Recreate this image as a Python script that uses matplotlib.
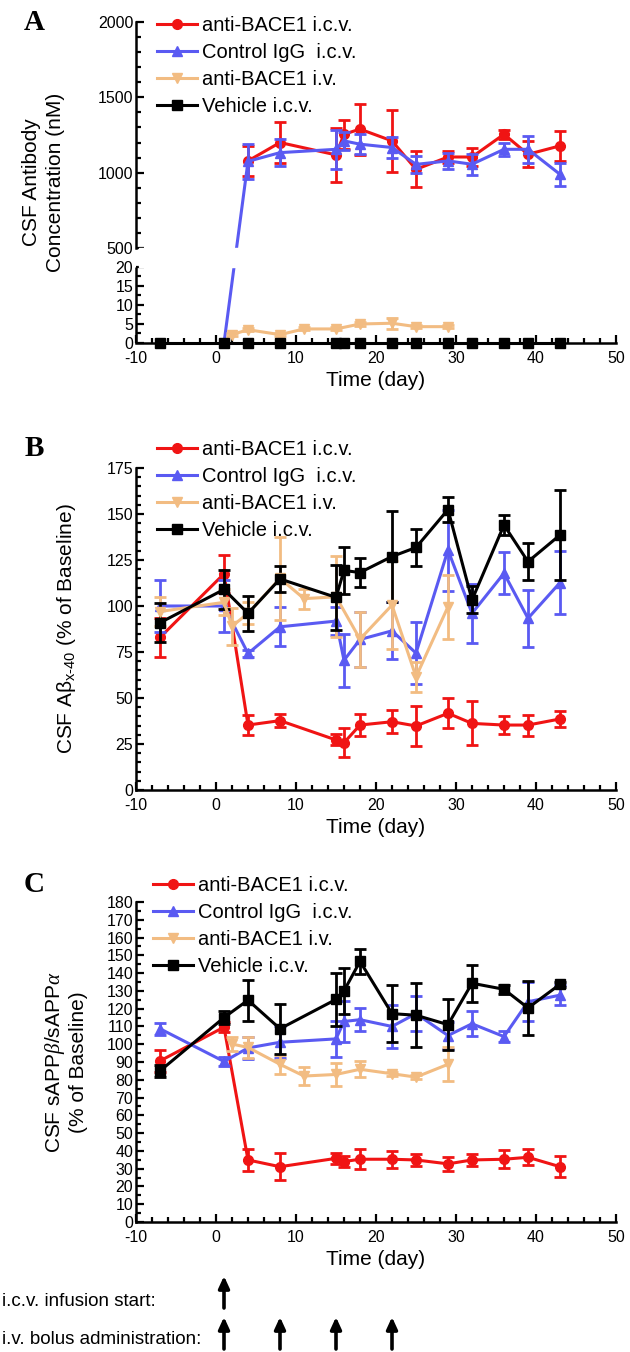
import numpy as np
import matplotlib
matplotlib.use("Agg")
import matplotlib.pyplot as plt
import matplotlib.transforms as mtransforms
from matplotlib.ticker import MultipleLocator, FixedLocator

plt.rcParams["font.family"] = ["Liberation Sans", "DejaVu Sans"]
plt.rcParams["axes.unicode_minus"] = False
plt.rcParams["mathtext.fontset"] = "custom"
plt.rcParams["mathtext.rm"] = "Liberation Sans"
plt.rcParams["mathtext.it"] = "Liberation Serif:italic"

labels = ["anti-BACE1 i.c.v.", "Control IgG  i.c.v.", "anti-BACE1 i.v.", "Vehicle i.c.v."]

# ---- panel A: CSF antibody concentration (nM)
a_red_days = [4, 8, 15, 16, 18, 22, 25, 29, 32, 36, 39, 43]
a_red = [1078, 1200, 1118, 1255, 1289, 1211, 1022, 1104, 1104, 1255, 1122, 1178]
a_red_err = [100, 135, 180, 95, 170, 205, 120, 40, 60, 30, 85, 100]
a_blue_days = [1, 4, 8, 15, 16, 18, 22, 25, 29, 32, 36, 39, 43]
a_blue = [0, 1075, 1133, 1155, 1211, 1189, 1167, 1055, 1078, 1056, 1155, 1155, 989]
a_blue_err = [0, 115, 90, 130, 60, 65, 70, 55, 55, 70, 45, 90, 75]
a_tan_days = [2, 4, 8, 11, 15, 18, 22, 25, 29]
a_tan = [2.2, 3.5, 2.2, 3.7, 3.7, 5.0, 5.2, 4.3, 4.3]
a_tan_err = [0.4, 0.4, 0.4, 0.4, 0.4, 0.4, 1.5, 0.4, 0.4]
a_blk_days = [-7, 1, 4, 8, 15, 16, 18, 22, 25, 29, 32, 36, 39, 43]
a_blk = [0, 0, 0, 0, 0, 0, 0, 0, 0, 0, 0, 0, 0, 0]

# ---- panel B: CSF Abeta x-40 (% of baseline)
b_days = [-7, 1, 4, 8, 15, 16, 18, 22, 25, 29, 32, 36, 39, 43]
b_red = [82.9, 117.5, 35.3, 37.7, 27.2, 25.7, 35.3, 37.1, 34.8, 41.7, 36.2, 35.3, 35.3, 38.6]
b_red_err = [10.4, 10.4, 5.2, 3.6, 3, 8, 6.2, 6.2, 11, 8.2, 12, 4.9, 5.7, 4.5]
b_blue = [100, 100, 74.2, 88.7, 91.8, 70.5, 81.8, 86.5, 74.4, 130.4, 96, 117.8, 93.3, 112.7]
b_blue_err = [14, 14, 2, 10.5, 7.5, 14.5, 15, 15.5, 17, 22, 16, 11.3, 15.6, 17.2]
b_tan_days = [-7, 1, 2, 4, 8, 11, 15, 18, 22, 25, 29]
b_tan = [97, 102, 89, 96, 115, 104, 105, 82, 100.5, 61.5, 99.6]
b_tan_err = [8, 7, 10, 6, 22.5, 5.5, 22, 15, 24, 8, 17.5]
b_blk = [90.9, 109, 96, 114.7, 104.7, 119.3, 118.2, 126.9, 131.8, 152.4, 103.3, 144, 124.1, 138.6]
b_blk_err = [10.5, 10.7, 9.5, 7, 17.7, 12.7, 7.7, 24.6, 10, 7, 7.3, 5.4, 10, 24.5]

# ---- panel C: CSF sAPPb/sAPPa (% of baseline)
c_days = [-7, 1, 4, 8, 15, 16, 18, 22, 25, 29, 32, 36, 39, 43]
c_red = [90.6, 109.6, 34.9, 31.1, 35.8, 34, 35.3, 35.3, 34.9, 32.7, 34.9, 35.3, 36.4, 31.1]
c_red_err = [6, 3, 6.3, 7.5, 3, 3, 5.5, 4.7, 3.4, 3.9, 3.4, 5.2, 4.5, 6]
c_blue = [108.7, 90.3, 97.9, 101.1, 103, 112.8, 113.8, 110, 117.2, 104.9, 111.5, 104.3, 123.9, 127.6]
c_blue_err = [3.5, 2.5, 6.2, 9, 10, 11.4, 6.4, 12, 10, 7.6, 7, 3, 11, 5.7]
c_tan_days = [2, 4, 8, 11, 15, 18, 22, 25, 29]
c_tan = [100.1, 98.2, 88.7, 82.1, 83, 85.9, 83.4, 81.5, 88.7]
c_tan_err = [4, 6, 5.5, 5, 6.5, 4.6, 1, 1, 9.5]
c_blk = [85, 115, 124.8, 108.7, 125.2, 130, 146.6, 117.2, 116.3, 111, 134.3, 130.9, 120.4, 133.7]
c_blk_err = [3.5, 3.5, 11.5, 14, 15, 12.8, 7, 16, 18, 14.4, 10.4, 2.5, 15, 1.5]

icv_start_days = [1]
bolus_days = [1, 8, 15, 22]

RED, BLUE, TAN, BLK = "#f01414", "#5a5af2", "#f2bc82", "#000000"
styles = [(RED, "o"), (BLUE, "^"), (TAN, "v"), (BLK, "s")]

TICK_FS = 11.5
LAB_FS = 15
LEG_FS = 14.5

fig = plt.figure(figsize=(6.3, 13.52), dpi=100)
W, H = 630.0, 1352.0


def make_ax(top_px, bot_px):
    return fig.add_axes([136 / W, 1 - bot_px / H, 480 / W, (bot_px - top_px) / H])


def style_ax(ax):
    for s in ["top", "right"]:
        ax.spines[s].set_visible(False)
    for s in ["left", "bottom"]:
        ax.spines[s].set_linewidth(1.8)
    ax.set_xlim(-10, 50)
    ax.xaxis.set_major_locator(MultipleLocator(10))
    ax.xaxis.set_minor_locator(MultipleLocator(2))
    ax.tick_params(which="both", direction="in", width=1.6, labelsize=TICK_FS)
    ax.tick_params(axis="x", pad=5.5)
    ax.tick_params(axis="y", pad=2)
    ax.tick_params(which="major", length=6)
    ax.tick_params(which="minor", length=3.5)
    ax.set_xlabel("Time (day)", fontsize=LAB_FS, labelpad=4)


def series(ax, x, y, err, k, clip=True):
    color, mk = styles[k]
    cont = ax.errorbar(x, y, yerr=err, color=color, marker=mk, markersize=7,
                       lw=2.2, elinewidth=2, capsize=4, capthick=2,
                       clip_on=clip, zorder=2 + k * 0.1)
    for a in cont.lines[1] + cont.lines[2]:
        a.set_clip_on(clip)
    return cont.lines[0]


def legend(ax, handles, x_px, top_px):
    ax.legend(handles, labels, loc="upper left", bbox_to_anchor=(x_px / W, 1 - top_px / H),
              bbox_transform=fig.transFigure, frameon=False, fontsize=LEG_FS, borderpad=0,
              borderaxespad=0, labelspacing=0.4, handlelength=2.0, handletextpad=0.25,
              numpoints=1)


# ---------------- Panel A (broken y axis through a piecewise scale)
def fwd(v):
    v = np.asarray(v, dtype=float)
    return np.where(v <= 20, v * 3.8,
                    np.where(v < 500, 76 + (v - 20) * 19 / 480, 95 + (v - 500) * 226 / 1500))


def inv(u):
    u = np.asarray(u, dtype=float)
    return np.where(u <= 76, u / 3.8,
                    np.where(u < 95, 20 + (u - 76) * 480 / 19, 500 + (u - 95) * 1500 / 226))


axA = make_ax(22, 343)
axA.set_yscale("function", functions=(fwd, inv))
axA.set_ylim(0, 2000)
style_ax(axA)
axA.yaxis.set_major_locator(FixedLocator([0, 5, 10, 15, 20, 500, 1000, 1500, 2000]))
axA.yaxis.set_minor_locator(FixedLocator([2.5, 7.5, 12.5, 17.5] +
                                         [v for v in range(600, 2000, 100) if v % 500]))
axA.yaxis.set_major_formatter(plt.FuncFormatter(lambda v, p: "%d" % v))
# split left spine: upper part is the spine itself, lower part drawn along the axis
axA.spines["left"].set_bounds(500, 2000)
axA.plot([0, 0], [0, 20], transform=axA.get_yaxis_transform(), color="black", lw=1.8,
         clip_on=False, solid_capstyle="butt", zorder=2.5)
axA.axhspan(20, 500, xmin=0.006, color="white", zorder=3.5)

hA = [series(axA, a_red_days, a_red, a_red_err, 0),
      series(axA, a_blue_days, a_blue, a_blue_err, 1),
      series(axA, a_tan_days, a_tan, a_tan_err, 2),
      series(axA, a_blk_days, a_blk, None, 3, clip=False)]
axA.set_ylabel("CSF Antibody\nConcentration (nM)", fontsize=LAB_FS, linespacing=1.3)
axA.yaxis.set_label_coords(-0.148, 0.5)
legend(axA, hA, 157, 16)

# ---------------- Panel B
axB = make_ax(468, 790)
style_ax(axB)
axB.set_ylim(0, 175)
axB.yaxis.set_major_locator(MultipleLocator(25))
axB.yaxis.set_minor_locator(MultipleLocator(5))
hB = [series(axB, b_days, b_red, b_red_err, 0),
      series(axB, b_days, b_blue, b_blue_err, 1),
      series(axB, b_tan_days, b_tan, b_tan_err, 2),
      series(axB, b_days, b_blk, b_blk_err, 3)]
axB.set_ylabel(r"CSF A$\mathregular{\beta_{x\text{-}40}}$ (% of Baseline)", fontsize=LAB_FS)
axB.yaxis.set_label_coords(-0.12, 0.5)
legend(axB, hB, 157, 440)

# ---------------- Panel C
axC = make_ax(902, 1222)
style_ax(axC)
axC.set_ylim(0, 180)
axC.yaxis.set_major_locator(MultipleLocator(10))
axC.yaxis.set_minor_locator(MultipleLocator(5))
hC = [series(axC, c_days, c_red, c_red_err, 0),
      series(axC, c_days, c_blue, c_blue_err, 1),
      series(axC, c_tan_days, c_tan, c_tan_err, 2),
      series(axC, c_days, c_blk, c_blk_err, 3)]
axC.set_ylabel(r"CSF sAPP$\beta$/sAPP$\mathit{\alpha}$" + "\n(% of Baseline)", fontsize=LAB_FS,
               linespacing=1.15)
axC.yaxis.set_label_coords(-0.1, 0.5)
legend(axC, hC, 153, 876)

# panel letters
for txt, y_px in [("A", 22), ("B", 448), ("C", 885)]:
    fig.text(34 / W, 1 - y_px / H, txt, fontsize=21, fontweight="bold",
             family="Liberation Serif", ha="center", va="center")

# dosing arrows under panel C
trans = mtransforms.blended_transform_factory(axC.transData, fig.transFigure)
arrow_kw = dict(arrowstyle="-|>,head_length=0.7,head_width=0.32", lw=2.6, color="black",
                shrinkA=0, shrinkB=0)
for d in icv_start_days:
    axC.annotate("", xy=(d, 1 - 1276 / H), xytext=(d, 1 - 1308 / H), xycoords=trans,
                 textcoords=trans, arrowprops=arrow_kw, annotation_clip=False)
for d in bolus_days:
    axC.annotate("", xy=(d, 1 - 1317 / H), xytext=(d, 1 - 1349 / H), xycoords=trans,
                 textcoords=trans, arrowprops=arrow_kw, annotation_clip=False)
fig.text(2 / W, 1 - 1301 / H, "i.c.v. infusion start:", fontsize=13.5, va="center")
fig.text(2 / W, 1 - 1340 / H, "i.v. bolus administration:", fontsize=13.5, va="center")

fig.savefig("out.png", dpi=100)
